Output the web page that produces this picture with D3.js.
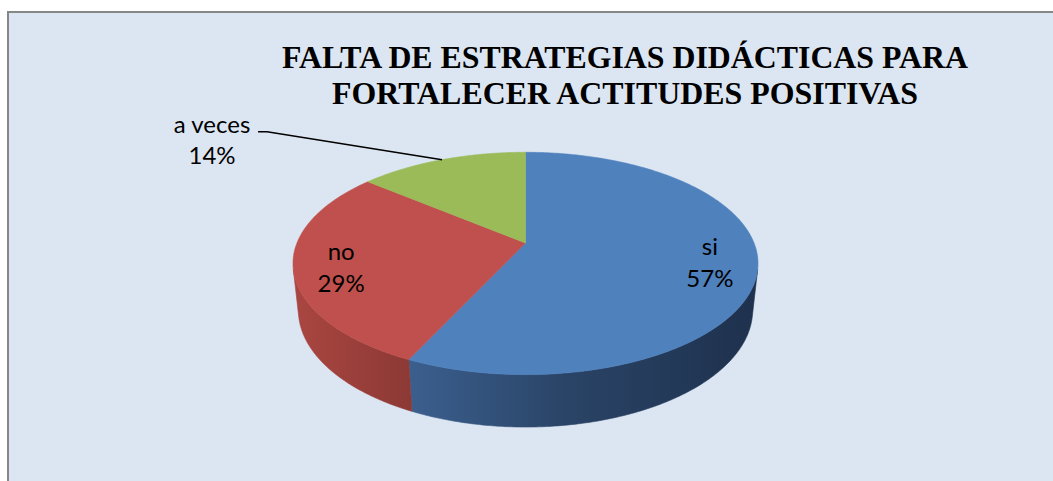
<!DOCTYPE html>
<html>
<head>
<meta charset="utf-8">
<script src="https://cdn.jsdelivr.net/npm/d3@7/dist/d3.min.js"></script>
<style>
  html, body { margin: 0; padding: 0; background: #ffffff; }
  svg { display: block; }
</style>
</head>
<body>
<svg id="chart" width="1053" height="481"></svg>
<script>
// ---- data ----
const categories = ["si", "no", "a veces"];
const values = [57, 29, 14];
const percentLabels = ["57%", "29%", "14%"];
const titleLines = ["FALTA DE ESTRATEGIAS DIDÁCTICAS PARA", "FORTALECER ACTITUDES POSITIVAS"];

// ---- styles ----
const topColors = ["#4F81BD", "#C0504D", "#9BBB59"];
const sideStops = [
  [["0%", "#3B5F8E"], ["45%", "#2A4467"], ["100%", "#1E314D"]],
  [["0%", "#AA4641"], ["100%", "#8C3935"]],
  [["0%", "#7E9A47"], ["100%", "#6B833C"]]
];

const W = 1053, H = 481;
const svg = d3.select("#chart");
const defs = svg.append("defs");

// background + frame
svg.append("rect").attr("x", 0).attr("y", 0).attr("width", W).attr("height", H).attr("fill", "#ffffff");
svg.append("rect").attr("x", 8).attr("y", 12).attr("width", W + 20).attr("height", H + 20)
  .attr("fill", "#DCE6F2").attr("stroke", "#878787").attr("stroke-width", 2);

// title
const title = svg.append("g");
const titleWidths = [686, 586];
titleLines.forEach((t, i) => {
  title.append("text")
    .attr("x", 625).attr("y", 68 + i * 36)
    .attr("text-anchor", "middle")
    .attr("font-family", "'Liberation Serif', 'Times New Roman', serif")
    .attr("font-weight", "bold")
    .attr("font-size", 32)
    .attr("textLength", titleWidths[i])
    .attr("lengthAdjust", "spacingAndGlyphs")
    .attr("fill", "#000")
    .text(t);
});

// ---- 3D pie projection ----
const cx = 525.5, cy = 243;
const F = 1097, dist = 4.8;
const sinP = 0.47, cosP = Math.sqrt(1 - sinP * sinP);
const thick = 0.233;

function proj(theta, r, z) {
  const X = r * Math.sin(theta), Y = r * Math.cos(theta), Z = z;
  const depth = dist + Y * cosP - Z * sinP;
  const up = Y * sinP + Z * cosP;
  return [cx + F * X / depth, cy - F * up / depth];
}

const pie = d3.pie().sort(null).value(d => d).startAngle(0).endAngle(2 * Math.PI);
const arcs = pie(values);

function arcPoints(a0, a1, r, z) {
  const n = Math.max(2, Math.ceil(Math.abs(a1 - a0) / 0.01));
  const pts = [];
  for (let i = 0; i <= n; i++) pts.push(proj(a0 + (a1 - a0) * i / n, r, z));
  return pts;
}
const line = d3.line();

// visible outer wall range
const lim = Math.acos(-1 / (dist * cosP));
const visLo = lim, visHi = 2 * Math.PI - lim;

const pieG = svg.append("g");

// side walls
arcs.forEach((a, i) => {
  const lo = Math.max(a.startAngle, visLo), hi = Math.min(a.endAngle, visHi);
  if (hi <= lo) return;
  const topPts = arcPoints(lo, hi, 1, 0);
  const botPts = arcPoints(hi, lo, 1, -thick);
  const xs = topPts.concat(botPts).map(p => p[0]);
  const gid = "side" + i;
  const g = defs.append("linearGradient").attr("id", gid)
    .attr("gradientUnits", "userSpaceOnUse")
    .attr("x1", d3.min(xs)).attr("x2", d3.max(xs)).attr("y1", 0).attr("y2", 0);
  sideStops[i].forEach(s => g.append("stop").attr("offset", s[0]).attr("stop-color", s[1]));
  pieG.append("path")
    .attr("d", line(topPts.concat(botPts)) + "Z")
    .attr("fill", `url(#${gid})`)
    .attr("stroke", `url(#${gid})`).attr("stroke-width", 0.6);
});

// top faces
arcs.forEach((a, i) => {
  const pts = [proj(0, 0, 0)].concat(arcPoints(a.startAngle, a.endAngle, 1, 0));
  pieG.append("path")
    .attr("d", line(pts) + "Z")
    .attr("fill", topColors[i])
    .attr("stroke", topColors[i]).attr("stroke-width", 0.6);
});

// ---- labels ----
const labelFont = "Lato, 'Open Sans', sans-serif";
const labelSize = 24;
function addLabel(x, y, name, pct) {
  const g = svg.append("g").attr("font-family", labelFont).attr("font-size", labelSize)
    .attr("fill", "#000").attr("text-anchor", "middle");
  g.append("text").attr("x", x).attr("y", y - 7).text(name);
  g.append("text").attr("x", x).attr("y", y + 24.5).text(pct);
}

// inside labels for "si" and "no"
[0, 1].forEach(i => {
  const a = arcs[i];
  const mid = (a.startAngle + a.endAngle) / 2;
  const p = proj(mid, 0.8, 0);
  addLabel(p[0], p[1] + (i === 1 ? 5 : 0), categories[i], percentLabels[i]);
});

// outside label with leader line for "a veces"
{
  const a = arcs[2];
  const mid = (a.startAngle + a.endAngle) / 2;
  const edge = proj(mid, 1, 0);
  const elbow = [edge[0] - 175, edge[1] - 28];
  const end = [elbow[0] - 9, elbow[1]];
  svg.append("path").attr("d", line([edge, elbow, end]))
    .attr("fill", "none").attr("stroke", "#000").attr("stroke-width", 1.5);
  addLabel(end[0] - 46, end[1] + 8, categories[2], percentLabels[2]);
}
</script>
</body>
</html>
